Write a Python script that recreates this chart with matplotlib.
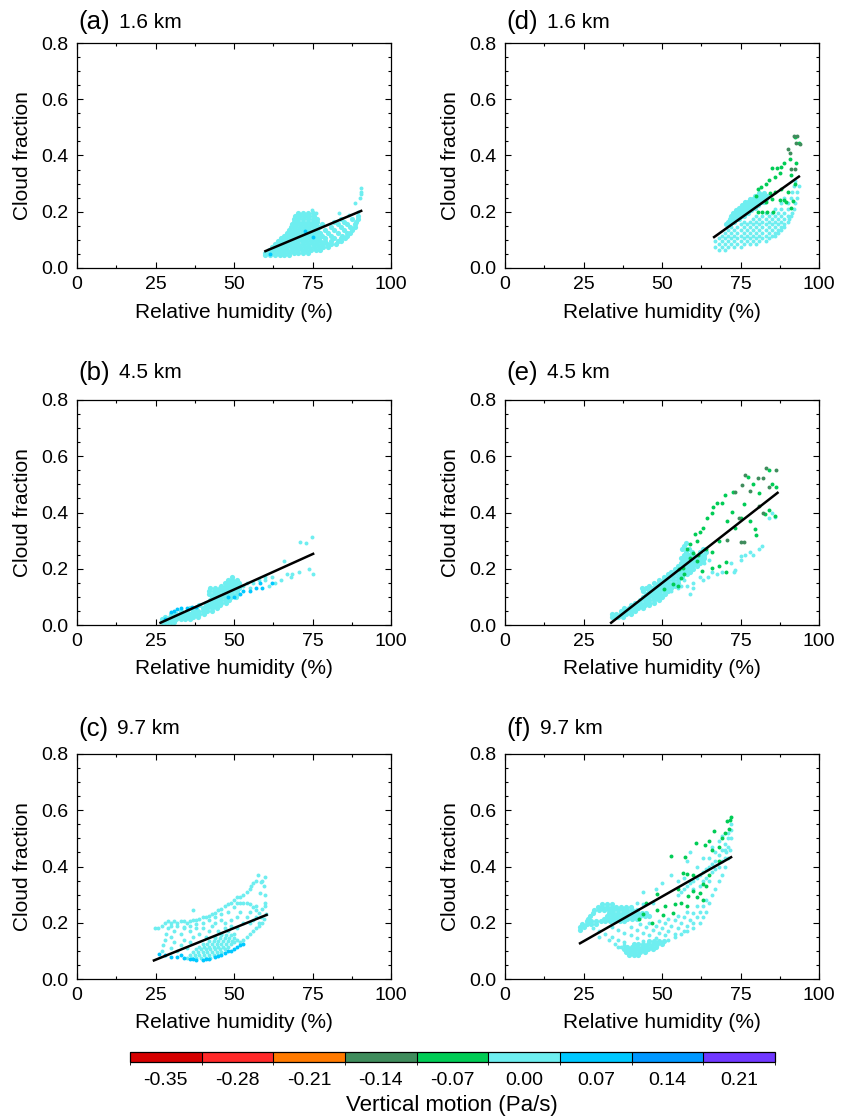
import matplotlib.pyplot as plt
import matplotlib as mpl
from matplotlib.colors import ListedColormap, BoundaryNorm
from matplotlib.ticker import MultipleLocator, FormatStrFormatter

plt.rcParams['font.family'] = ['Liberation Sans', 'DejaVu Sans']

# colour bins of vertical motion (Pa/s)
w_labels = ['-0.35', '-0.28', '-0.21', '-0.14', '-0.07', '0.00', '0.07', '0.14', '0.21']
w_colors = ['#d60000', '#ff2a2a', '#ff7a00', '#3f8c5c', '#00cc55',
            '#6eeef0', '#00c8ff', '#0098ff', '#7038ff']

# packed parts are given as (cloud fraction, [relative humidity ...]) rows,
# scattered parts as (relative humidity, cloud fraction) pairs

# ---- (a) 1.6 km, control
a_dense_000 = [
    (0.045, [60, 61.5, 63, 64.5, 66, 67.5]),
    (0.055, [60, 61.5, 63, 64.5, 66, 67.5, 69, 70.5, 72, 73.5]),
    (0.065, [61, 62.5, 64, 65.5, 67, 68.5, 70, 71.5, 73, 74.5, 76, 77.5]),
    (0.075, [62, 63.5, 65, 66.5, 68, 69.5, 71, 72.5, 74, 75.5, 77, 78.5, 80]),
    (0.085, [63, 64.5, 66, 67.5, 69, 70.5, 72, 73.5, 75, 76.5, 78, 79.5, 81, 82.5]),
    (0.095, [64, 65.5, 67, 68.5, 70, 71.5, 73, 74.5, 76, 77.5, 79, 81, 83, 84]),
    (0.105, [65, 66.5, 68, 69.5, 71, 72.5, 74, 75.5, 77, 79, 82, 84, 85.5]),
    (0.115, [66, 67.5, 69, 70.5, 72, 73.5, 75, 76.5, 78, 81, 84.5, 86]),
    (0.125, [67, 68.5, 70, 71.5, 73, 74.5, 76, 77.5, 80, 83, 86, 87]),
    (0.135, [67.5, 69, 70.5, 72, 73.5, 75, 76.5, 79, 82, 85, 87.5]),
    (0.145, [68, 69.5, 71, 72.5, 74, 75.5, 77, 81, 84, 87, 88.5]),
    (0.155, [68.5, 70, 71.5, 73, 74.5, 76, 78, 83, 86, 88.5]),
    (0.165, [69, 70.5, 72, 73.5, 75, 76.5, 82, 85, 89]),
    (0.175, [69, 70.5, 72, 73.5, 75, 76.5, 84, 87.5, 89.5]),
    (0.185, [69.5, 71, 72.5, 74, 75.5, 89.5]),
    (0.195, [70.5, 72, 73.5, 75]),
]
a_pts_000 = [(74.8, 0.205), (76, 0.195), (83.5, 0.195), (86.5, 0.19), (88.5, 0.232),
             (90, 0.25), (90.3, 0.262), (90.5, 0.272), (90.6, 0.285), (89.5, 0.2)]
a_pts_007 = [(61.5, 0.05), (72.5, 0.13), (75, 0.11)]
a_fit = ([60.0, 90.5], [0.060, 0.203])

# ---- (b) 4.5 km, control
b_dense_000 = [
    (0.01, [27, 28, 29, 30, 31]),
    (0.02, [27, 28.5, 30, 31.5, 33, 34.5, 36]),
    (0.03, [28, 29.5, 31, 32.5, 34, 35.5, 37, 38.5]),
    (0.04, [30, 31.5, 33, 34.5, 36, 37.5, 39, 40.5]),
    (0.05, [33, 35, 37, 38.5, 40, 41.5, 43]),
    (0.06, [36, 38, 40, 41.5, 43, 44.5]),
    (0.07, [39, 41, 42.5, 44, 45.5]),
    (0.08, [41, 43, 44.5, 46, 47.5]),
    (0.09, [42.5, 44, 45.5, 47, 48.5]),
    (0.10, [43, 44.5, 46, 47.5, 49, 50.5]),
    (0.11, [42, 43.5, 45, 46.5, 48, 49.5, 51]),
    (0.12, [42, 43.5, 45, 46.5, 48, 49.5, 51]),
    (0.13, [42.5, 44, 45.5, 47, 48.5, 50, 51.5]),
    (0.14, [46, 47.5, 49, 50.5]),
    (0.15, [47, 48.5, 50, 51.5]),
    (0.16, [48, 49.5, 51]),
    (0.17, [49.5]),
]
b_pts_000 = [(53, 0.14), (54, 0.15), (55, 0.13), (56, 0.15), (58, 0.16), (60, 0.16),
             (60, 0.17), (61, 0.14), (62, 0.17), (63, 0.15), (65, 0.16), (66, 0.228),
             (67, 0.18), (68, 0.17), (68.5, 0.18), (70.7, 0.19), (71, 0.294), (73, 0.29),
             (74, 0.2), (74.9, 0.314), (75.3, 0.18)]
b_pts_007 = [(28, 0.02), (30, 0.045), (31, 0.05), (32, 0.058), (33, 0.062), (35, 0.062),
             (36.5, 0.065), (38, 0.065), (48, 0.1), (50, 0.1), (52, 0.11), (53, 0.12),
             (55, 0.12), (57, 0.13), (58.3, 0.148), (59, 0.13), (62, 0.15)]
b_fit = ([26.6, 75.2], [0.008, 0.253])

# ---- (c) 9.7 km, control
c_grid_000 = [
    (0.075, [35, 36.5, 38, 39.5, 41, 42.5]),
    (0.085, [36, 37.5, 39, 40.5, 42, 43.5, 45]),
    (0.095, [37, 38.5, 40, 41.5, 43, 44.5, 46]),
    (0.105, [38, 39.5, 41, 42.5, 44, 45.5, 47]),
    (0.115, [39, 40.5, 42, 43.5, 45, 46.5, 48]),
    (0.125, [40, 41.5, 43, 44.5, 46, 47.5, 49]),
    (0.135, [42, 43.5, 45, 46.5, 48, 49.5]),
    (0.145, [44, 45.5, 47, 48.5, 50]),
    (0.155, [46, 47.5, 49]),
]
c_pts_000 = [
    (24.8, 0.183), (25.8, 0.183), (27, 0.19), (28, 0.2), (29, 0.205), (30, 0.2), (31, 0.205),
    (32, 0.2), (33, 0.205), (34, 0.205), (35, 0.2), (36, 0.205), (37, 0.21), (37, 0.245),
    (38, 0.21), (39, 0.215), (40, 0.22), (41, 0.22), (42, 0.225), (43, 0.23), (44, 0.235),
    (45, 0.245), (46, 0.25), (47, 0.26), (48, 0.265), (49, 0.27), (50, 0.28), (51, 0.29),
    (52, 0.29), (53, 0.3), (54, 0.31), (55, 0.32), (55.5, 0.33), (56, 0.34), (57, 0.35),
    (57.7, 0.37), (58.5, 0.345), (59, 0.35), (60, 0.363), (59.5, 0.33), (58.3, 0.307),
    (60, 0.3), (60, 0.27), (59.9, 0.26), (59, 0.25), (60.3, 0.23),
    (50.8, 0.272), (52, 0.272), (53, 0.27), (54, 0.27), (55, 0.265), (56, 0.255),
    (57, 0.245), (58, 0.235), (58.5, 0.22), (59.5, 0.215),
    (30, 0.19), (32, 0.19), (34, 0.185), (36, 0.19), (38, 0.195), (40, 0.2), (42, 0.21),
    (44, 0.22), (46, 0.23), (48, 0.24), (50, 0.255),
    (27, 0.1), (27.5, 0.12), (28, 0.14), (28.5, 0.16), (29, 0.18), (30, 0.11), (30, 0.15),
    (31, 0.13), (31, 0.17), (32, 0.1), (33, 0.12), (33, 0.16), (34, 0.14), (34, 0.18),
    (35, 0.11), (36, 0.13), (36, 0.17), (37, 0.15), (38, 0.18), (39, 0.16), (40, 0.18),
    (41, 0.15), (42, 0.17), (43, 0.19), (44, 0.15), (44, 0.2), (45, 0.17), (46, 0.16),
    (46, 0.21), (47, 0.18), (47, 0.2), (48, 0.17), (49, 0.19), (49, 0.21), (50, 0.16),
    (51, 0.22), (51, 0.18), (52, 0.13), (52, 0.24), (53, 0.14), (53, 0.2), (54, 0.15),
    (55, 0.16), (56, 0.17), (57, 0.18), (58, 0.19), (59, 0.2), (56, 0.21), (57, 0.22),
    (58, 0.2), (55, 0.2), (54, 0.22), (55, 0.24), (57, 0.26), (51, 0.14), (50, 0.13),
]
c_pts_007 = [(26, 0.09), (28, 0.085), (30, 0.08), (32, 0.08), (33, 0.085), (34, 0.075),
             (36, 0.07), (37, 0.072), (38, 0.068), (40, 0.068), (41, 0.07), (42, 0.072),
             (44, 0.078), (45, 0.082), (46, 0.085), (47, 0.092), (48, 0.098), (49, 0.1),
             (50, 0.105), (51, 0.115), (52, 0.12), (53, 0.125)]
c_fit = ([24.5, 60.4], [0.066, 0.228])

# ---- (d) 1.6 km, experiment
d_dense_000 = [
    (0.155, [70.5, 71.5]),
    (0.165, [71, 72, 73]),
    (0.175, [71.5, 72.5, 73.5, 74.5]),
    (0.185, [72, 73, 74, 75, 76]),
    (0.195, [72.5, 73.5, 74.5, 75.5, 76.5, 77.5]),
    (0.205, [73.5, 74.5, 75.5, 76.5, 77.5, 78.5]),
    (0.215, [74.5, 75.5, 76.5, 77.5, 78.5, 79.5]),
    (0.225, [75.5, 76.5, 77.5, 78.5, 79.5, 80.5]),
    (0.235, [76.5, 77.5, 78.5, 79.5, 80.5, 81.5, 82.5]),
    (0.245, [78, 79, 80, 81, 82, 83]),
    (0.255, [79.5, 80.5, 81.5, 82.5, 83.5]),
    (0.265, [81, 82.5]),
]
d_grid_000 = [
    (0.065, [68, 70]),
    (0.075, [67, 69, 71, 73, 75]),
    (0.085, [68, 70, 72, 74, 76, 78, 80]),
    (0.095, [67, 69, 71, 73, 75, 77, 79, 81, 83]),
    (0.105, [68, 70, 72, 74, 76, 78, 80, 82, 84]),
    (0.115, [69, 71, 73, 75, 77, 79, 81, 83, 85, 86]),
    (0.125, [70, 72, 74, 76, 78, 80, 82, 84, 86, 87]),
    (0.135, [71, 73, 75, 77, 79, 81, 83, 85, 87, 88]),
    (0.145, [72, 74, 76, 78, 80, 82, 84, 86, 88, 89]),
    (0.155, [75, 77, 79, 81, 83, 85, 87, 89]),
    (0.165, [76, 78, 80, 82, 84, 86, 88, 90]),
    (0.175, [79, 81, 83, 85, 87, 89, 90.5]),
    (0.185, [80, 82, 84, 86, 88, 90, 91]),
    (0.195, [83, 85, 87, 89, 91.5]),
    (0.21, [86, 88, 90, 92]),
    (0.23, [88, 90, 92.5]),
    (0.25, [89, 91, 93]),
    (0.27, [91.5, 93]),
    (0.29, [92, 93.5]),
    (0.31, [92.5]),
]
d_pts_m007 = [(80.5, 0.28), (81.5, 0.287), (83, 0.3), (84, 0.313), (85, 0.355), (86.5, 0.355),
              (88, 0.36), (89, 0.375), (90.8, 0.387), (86, 0.325), (87.5, 0.337), (84.4, 0.266),
              (80.5, 0.2), (82, 0.2), (83.5, 0.2), (85.4, 0.2), (87.5, 0.242), (88.7, 0.242),
              (90.2, 0.272), (91, 0.212), (89.5, 0.236), (91.8, 0.24), (92.5, 0.3), (91, 0.33),
              (92.6, 0.375), (93.5, 0.445), (92.5, 0.465), (88, 0.28), (86, 0.27), (83, 0.235),
              (85, 0.245), (80, 0.255)]
d_pts_m014 = [(90.1, 0.422), (90.9, 0.408), (91.9, 0.47), (93.1, 0.47), (92.8, 0.444),
              (93.9, 0.441), (91.1, 0.351), (92.2, 0.351)]
d_fit = ([66.6, 93.6], [0.110, 0.325])

# ---- (e) 4.5 km, experiment
e_dense_000 = [
    (0.03, [34, 35, 36, 37.5]),
    (0.04, [34, 35.5, 37, 38.5, 40]),
    (0.05, [37, 38.5, 40, 41.5]),
    (0.06, [38, 39.5, 41, 42.5, 44]),
    (0.07, [40, 41.5, 43, 44.5, 46]),
    (0.08, [41.5, 43, 44.5, 46, 47.5]),
    (0.09, [43, 44.5, 46, 47.5, 49]),
    (0.10, [44, 45.5, 47, 48.5, 50]),
    (0.11, [45, 46.5, 48, 49.5, 51]),
    (0.12, [44, 46, 47.5, 49, 50.5, 52]),
    (0.13, [43.5, 45, 47, 48.5, 50, 51.5, 53]),
    (0.14, [46, 48, 49.5, 51, 52.5, 54]),
    (0.15, [47.5, 49, 50.5, 52, 53.5, 55]),
    (0.16, [49, 50.5, 52, 53.5, 55]),
    (0.17, [50.5, 52, 53.5, 55, 56.5]),
    (0.18, [52, 53.5, 55, 56.5, 58]),
    (0.19, [53, 54.5, 56, 57.5, 59]),
    (0.20, [54, 55.5, 57, 58.5, 60]),
    (0.21, [55, 56.5, 58, 59.5, 61]),
    (0.22, [56, 57.5, 59, 60.5, 62]),
    (0.23, [57, 58.5, 60, 61.5, 63]),
    (0.24, [56, 57.5, 59, 61, 62.5, 63.5]),
    (0.25, [57, 58.5, 60, 62, 63.5]),
    (0.26, [57.5, 59.5, 62, 64]),
    (0.27, [56.5, 58.5, 63]),
    (0.28, [57]),
    (0.29, [57.5]),
]
e_pts_000 = [(57, 0.16), (58, 0.14), (60, 0.15), (62, 0.17), (63, 0.16), (64.5, 0.17),
             (66, 0.19), (67.5, 0.18), (73, 0.19), (73.3, 0.197), (75, 0.23), (75.2, 0.246),
             (76.5, 0.25), (78, 0.26), (79, 0.25), (81, 0.27), (82, 0.28), (84, 0.382),
             (85, 0.4), (86, 0.385), (63.5, 0.22), (60, 0.13), (59, 0.11), (56, 0.14),
             (72, 0.22), (69, 0.19), (65, 0.23), (55, 0.13), (53, 0.12), (54, 0.145)]
e_pts_m007 = [(50.6, 0.127), (53.6, 0.145), (56.2, 0.168), (56.8, 0.202), (58.9, 0.287),
              (60.5, 0.323), (61, 0.3), (61, 0.228), (60, 0.257), (62.6, 0.192), (63.2, 0.346),
              (64.2, 0.38), (65.8, 0.4), (65.8, 0.204), (66.3, 0.418), (67.4, 0.433),
              (69, 0.435), (70.1, 0.461), (70.4, 0.225), (70.4, 0.189), (70.6, 0.37),
              (72.2, 0.403), (72.7, 0.473), (73.3, 0.346), (77.5, 0.527), (78.1, 0.37),
              (79.6, 0.34), (82.8, 0.394), (86, 0.388), (86.3, 0.492), (85, 0.5),
              (84, 0.55), (79, 0.5), (81, 0.47), (62, 0.33), (59, 0.24), (58, 0.27),
              (57, 0.18), (55, 0.14), (64, 0.27), (66, 0.26), (68, 0.21), (75, 0.38),
              (76, 0.43), (68, 0.3), (84, 0.41), (80, 0.32), (55.5, 0.2), (61.5, 0.25)]
e_pts_m014 = [(83, 0.557), (86.2, 0.55), (76.4, 0.534), (80.7, 0.524), (82.3, 0.522),
              (84.1, 0.489), (78.1, 0.477), (75.4, 0.498), (73.3, 0.474), (74.6, 0.382),
              (81, 0.423), (82.3, 0.4), (70.6, 0.302), (75.2, 0.295), (76, 0.296)]
e_fit = ([33.8, 86.8], [0.008, 0.470])

# ---- (f) 9.7 km, experiment
f_dense_000 = [
    (0.085, [39.5, 41, 42.5]),
    (0.095, [38.5, 40, 41.5, 43, 44.5]),
    (0.105, [38, 39.5, 41, 42.5, 44, 45.5, 47]),
    (0.115, [39, 40.5, 42, 43.5, 45, 46.5, 48]),
    (0.125, [41, 42.5, 44, 45.5, 47, 48.5, 50]),
    (0.135, [46, 47.5, 49, 50.5]),
    (0.175, [24]),
    (0.185, [24, 25]),
    (0.195, [24.5, 26, 27.5, 29]),
    (0.205, [26, 27.5, 29, 30.5, 32, 33.5, 35, 36.5, 38]),
    (0.215, [26.5, 31.5, 33, 34.5, 36, 37.5, 39, 40.5, 42]),
    (0.225, [27, 32.5, 34, 35.5, 37, 38.5, 40, 41.5, 43, 44.5, 46]),
    (0.235, [28, 33, 34.5, 36, 37.5, 39, 40.5, 42, 43.5, 45]),
    (0.245, [28.5, 30, 31.5, 33, 34.5, 36, 37.5, 39, 40.5, 42]),
    (0.255, [29.5, 31, 32.5, 34, 35.5, 37, 38.5, 40]),
    (0.265, [31, 32.5, 34]),
]
f_pts_000 = [
    (28, 0.18), (30, 0.17), (32, 0.16), (34, 0.15), (36, 0.14), (38, 0.13), (30, 0.15),
    (33, 0.14), (35, 0.125), (37, 0.115), (34, 0.185), (36, 0.175), (38, 0.165), (40, 0.155),
    (42, 0.145), (44, 0.135), (40, 0.185), (42, 0.175), (44, 0.165), (46, 0.155), (48, 0.145),
    (43, 0.195), (45, 0.185), (47, 0.175), (49, 0.165), (51, 0.155), (46, 0.2), (48, 0.19),
    (50, 0.18), (52, 0.17), (54, 0.16), (49, 0.205), (51, 0.2), (53, 0.19), (55, 0.18),
    (57, 0.17), (52, 0.215), (54, 0.21), (56, 0.2), (58, 0.19), (60, 0.2), (55, 0.225),
    (57, 0.22), (59, 0.21), (61, 0.22), (58, 0.24), (60, 0.235), (62, 0.24), (61, 0.26),
    (63, 0.26), (64, 0.28), (36, 0.115), (38, 0.12),
    (52, 0.14), (54, 0.15), (56, 0.16), (58, 0.17), (60, 0.18), (62, 0.2), (63, 0.22),
    (64, 0.24), (65, 0.27), (66, 0.3), (67, 0.32), (68, 0.35), (69, 0.37), (70, 0.4),
    (71, 0.43), (71.5, 0.46), (72, 0.5), (72, 0.53), (72, 0.55),
    (55, 0.3), (56, 0.31), (57, 0.32), (58, 0.33), (59, 0.34), (60, 0.35), (61, 0.36),
    (62, 0.37), (63, 0.38), (64, 0.39), (65, 0.4), (66, 0.41), (67, 0.42), (68, 0.44),
    (69, 0.46), (70, 0.48), (71, 0.5), (60, 0.32), (62, 0.33), (63, 0.35), (64, 0.36),
    (65, 0.35), (66, 0.38), (67, 0.39), (68, 0.4), (69, 0.42), (70, 0.43), (70.5, 0.45),
    (67, 0.45), (68, 0.49), (69, 0.51), (66, 0.47), (71, 0.52), (59, 0.45), (58, 0.42),
    (53, 0.37), (50, 0.34), (48, 0.32), (44, 0.31), (55, 0.35), (57, 0.36), (63, 0.43),
    (65, 0.43), (61, 0.4), (42, 0.27), (44, 0.265), (47, 0.27), (70, 0.46), (71, 0.47),
]
f_pts_m007 = [(72, 0.575), (71.5, 0.565), (70.6, 0.562), (71.2, 0.533), (70, 0.52), (69, 0.5),
              (66.6, 0.527), (65, 0.49), (63.7, 0.477), (60.8, 0.485), (66, 0.46), (68, 0.47),
              (52.8, 0.439), (57.3, 0.435), (57.9, 0.375), (56.8, 0.378), (62.9, 0.337),
              (55.2, 0.319), (59.9, 0.313), (62, 0.307), (58.4, 0.295), (48.3, 0.304),
              (48.5, 0.244), (50.4, 0.228), (50.9, 0.26), (53.4, 0.234), (54.1, 0.266),
              (46.7, 0.2), (42.6, 0.215), (45, 0.27), (44, 0.23), (60, 0.37), (64, 0.33),
              (65, 0.37), (68, 0.42), (61, 0.29), (63, 0.28), (56, 0.27), (58, 0.26)]
f_fit = ([23.9, 72.0], [0.127, 0.433])


def rows_to_xy(rows):
    xs, ys = [], []
    for y, row in rows:
        xs += row
        ys += [y] * len(row)
    return xs, ys


def pts_to_xy(pts):
    return [p[0] for p in pts], [p[1] for p in pts]


# tag, height, packed rows, loose rows, scattered groups (points, colour index), fit
panels = [
    ('(a)', '1.6 km', a_dense_000, [], [(a_pts_000, 5), (a_pts_007, 6)], a_fit),
    ('(b)', '4.5 km', b_dense_000, [], [(b_pts_000, 5), (b_pts_007, 6)], b_fit),
    ('(c)', '9.7 km', [], c_grid_000, [(c_pts_000, 5), (c_pts_007, 6)], c_fit),
    ('(d)', '1.6 km', d_dense_000, d_grid_000, [(d_pts_m007, 4), (d_pts_m014, 3)], d_fit),
    ('(e)', '4.5 km', e_dense_000, [],
     [(e_pts_000, 5), (e_pts_m007, 4), (e_pts_m014, 3)], e_fit),
    ('(f)', '9.7 km', f_dense_000, [], [(f_pts_000, 5), (f_pts_m007, 4)], f_fit),
]

W, H = 841, 1118
fig = plt.figure(figsize=(W / 100, H / 100), dpi=100)

col_left = [77, 505]
row_top = [43, 400, 754]
title_y = [22, 373, 729]
ax_w, ax_h = 314, 225

for i, (tag, height, dense, loose, groups, fit) in enumerate(panels):
    col, row = i // 3, i % 3
    l, t = col_left[col], row_top[row]
    ax = fig.add_axes([l / W, 1 - (t + ax_h) / H, ax_w / W, ax_h / H])

    if dense:
        x, y = rows_to_xy(dense)
        ax.scatter(x, y, s=14, c=w_colors[5], linewidths=0, zorder=2)
    if loose:
        x, y = rows_to_xy(loose)
        ax.scatter(x, y, s=8, c=w_colors[5], linewidths=0, zorder=2)
    for pts, k in groups:
        x, y = pts_to_xy(pts)
        ax.scatter(x, y, s=8, c=w_colors[k], linewidths=0, zorder=2)
    ax.plot(fit[0], fit[1], color='black', lw=1.8, zorder=3)

    ax.set_xlim(0, 100)
    ax.set_ylim(0, 0.8)
    ax.xaxis.set_major_locator(MultipleLocator(25))
    ax.xaxis.set_minor_locator(MultipleLocator(12.5))
    ax.yaxis.set_major_locator(MultipleLocator(0.2))
    ax.yaxis.set_minor_locator(MultipleLocator(0.05))
    ax.yaxis.set_major_formatter(FormatStrFormatter('%.1f'))
    ax.tick_params(which='both', direction='in', top=True, right=True,
                   width=0.8, labelsize=14, pad=6)
    ax.tick_params(which='major', length=4)
    ax.tick_params(which='minor', length=2)
    for sp in ax.spines.values():
        sp.set_linewidth(0.9)

    ax.text(-54 / ax_w, 0.5, 'Cloud fraction', transform=ax.transAxes,
            rotation=90, ha='center', va='center', fontsize=15)
    ax.text(0.5, -44 / ax_h, 'Relative humidity (%)', transform=ax.transAxes,
            ha='center', va='center', fontsize=15)

    # panel tag, then the height a word space after it
    ty = 1 - title_y[row] / H
    tg = fig.text((l + 1) / W, ty, tag, ha='left', va='center', fontsize=18.5)
    fig.canvas.draw()
    tag_right = tg.get_window_extent().x1
    fig.text((tag_right + 9) / W, ty, height, ha='left', va='center', fontsize=15)

# colour bar of vertical motion
cax = fig.add_axes([130 / W, 1 - 1062 / H, 645 / W, 10 / H])
cmap = ListedColormap(w_colors)
norm = BoundaryNorm(list(range(len(w_colors) + 1)), cmap.N)
cb = mpl.colorbar.ColorbarBase(cax, cmap=cmap, norm=norm, orientation='horizontal',
                               drawedges=True)
cb.outline.set_linewidth(0.9)
cb.dividers.set_linewidth(0.8)
cb.set_ticks([k + 0.5 for k in range(len(w_labels))])
cb.set_ticklabels(w_labels)
cax.tick_params(length=0, labelsize=14, pad=7)
fig.text(452 / W, 1 - 1106 / H, 'Vertical motion (Pa/s)', ha='center', va='center',
         fontsize=16)

fig.savefig('out.png', dpi=100)
